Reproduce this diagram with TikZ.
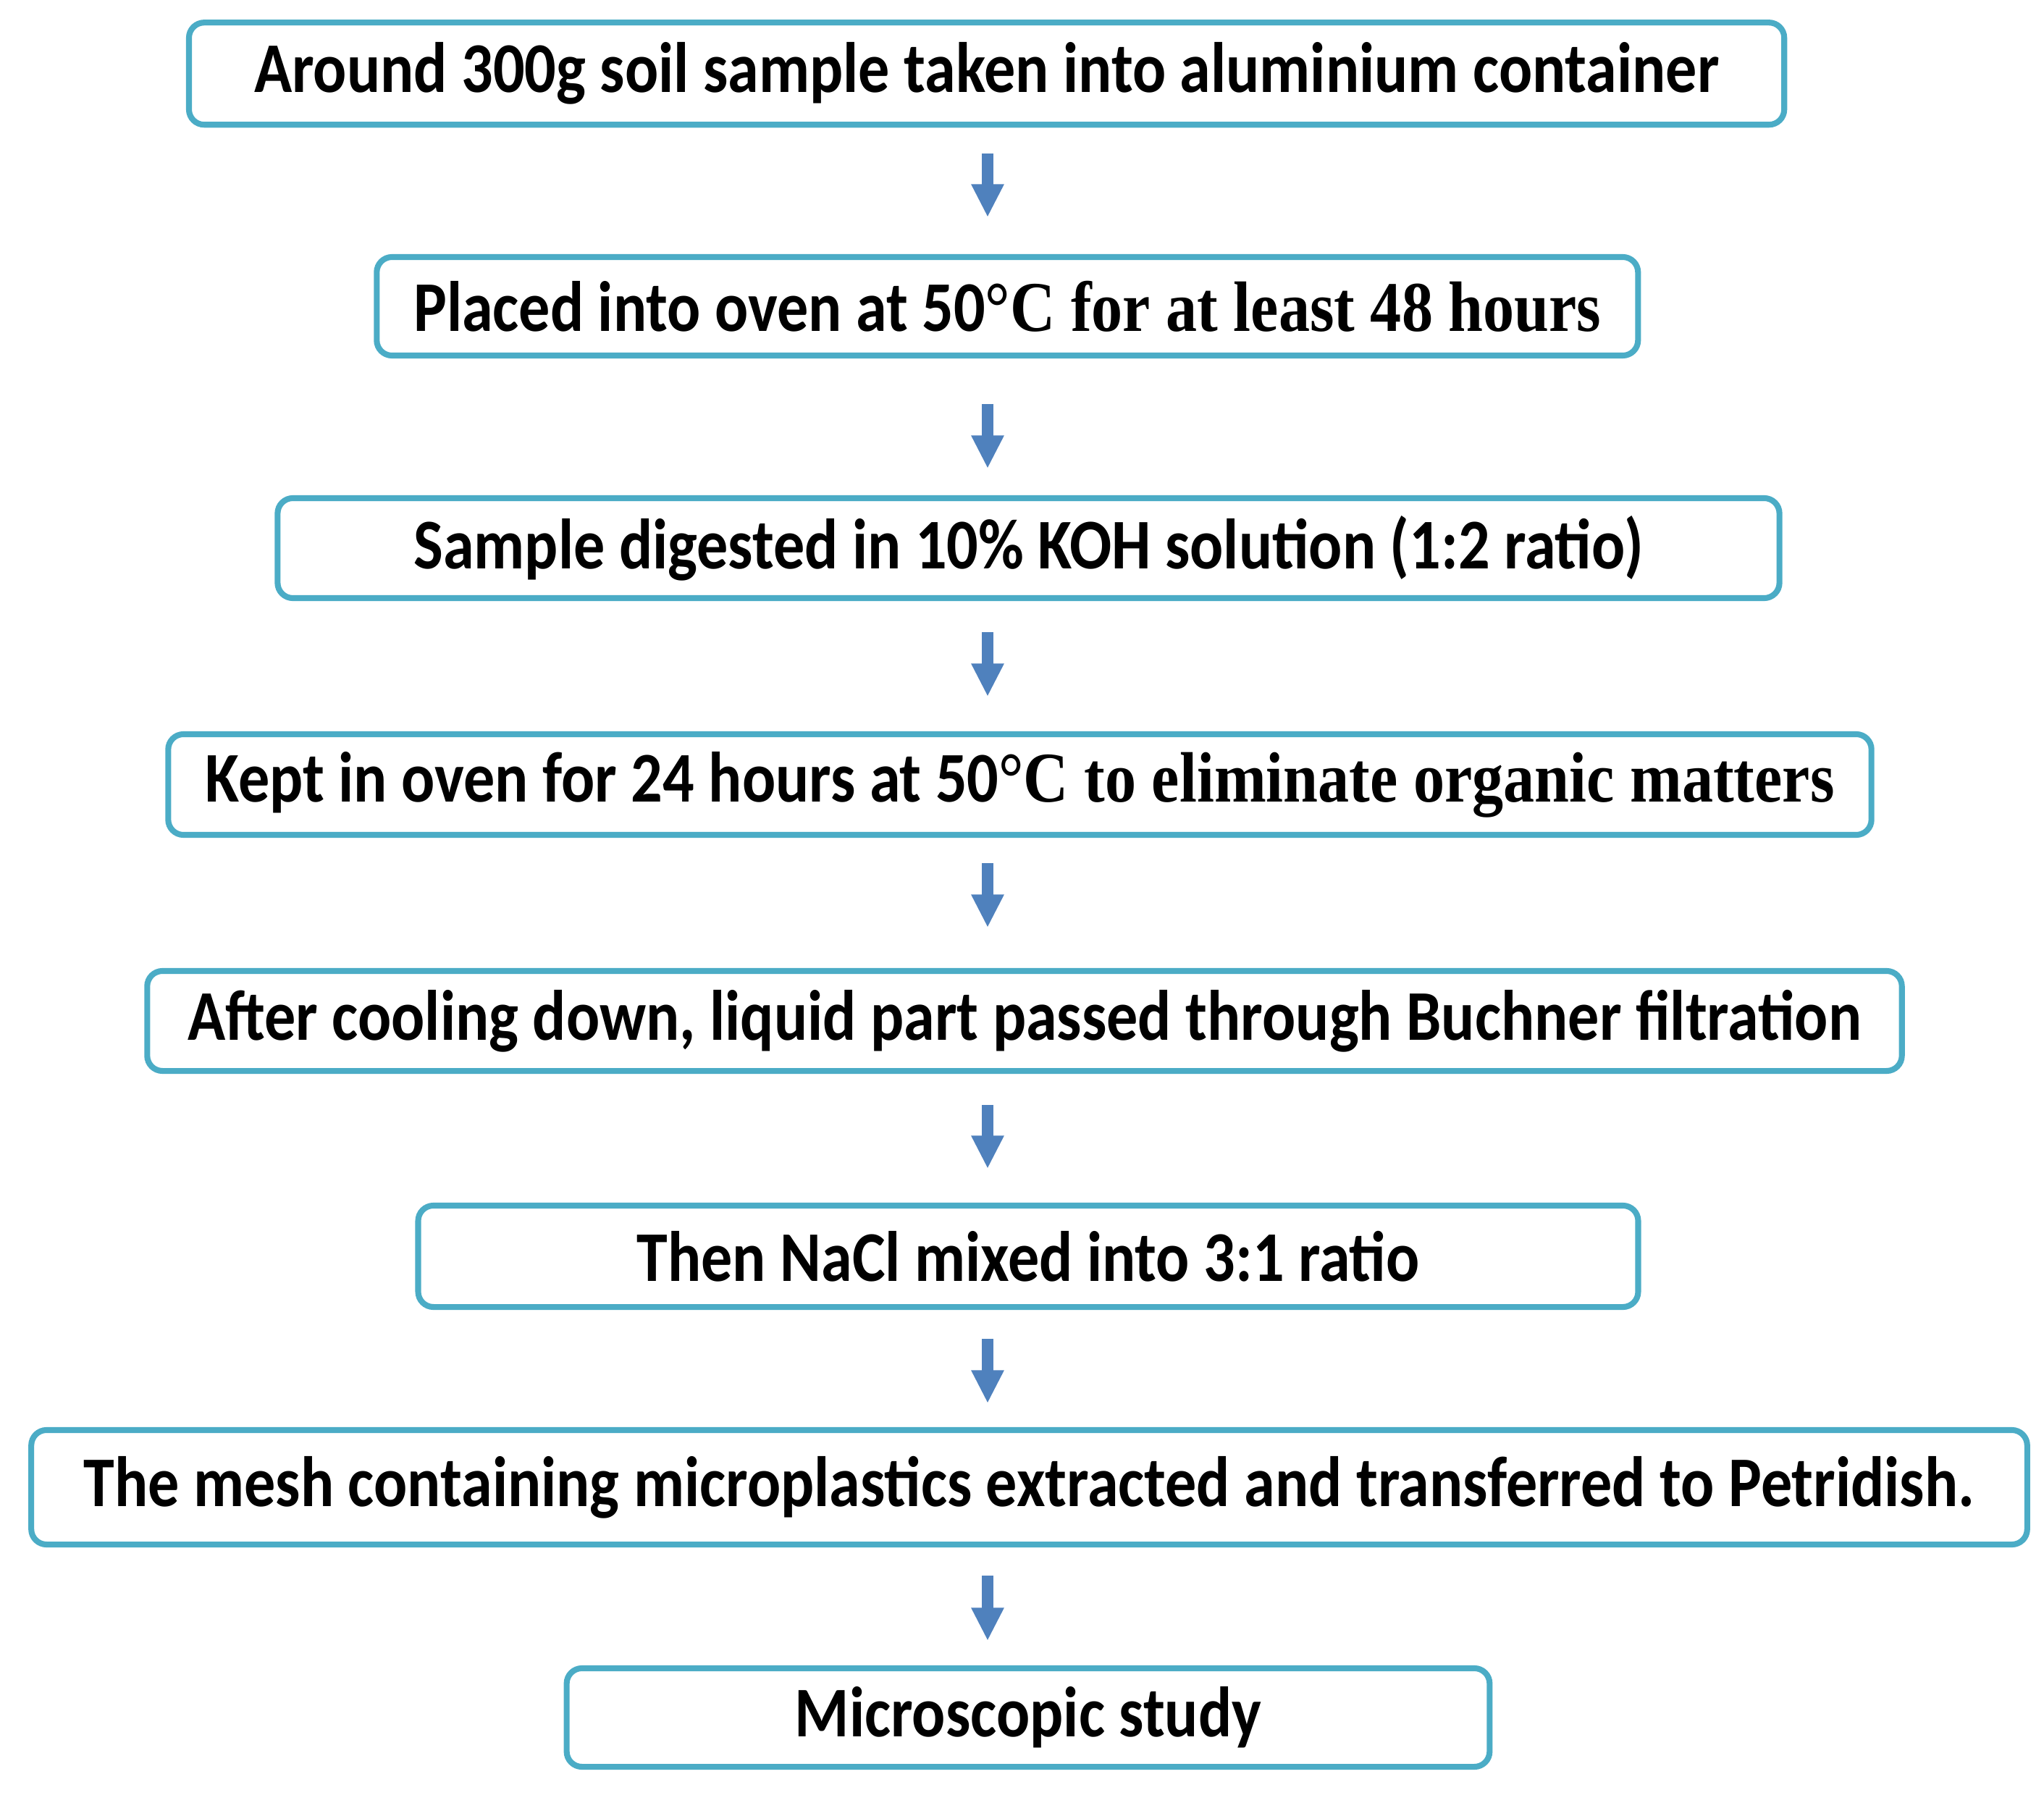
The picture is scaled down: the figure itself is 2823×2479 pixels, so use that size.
\documentclass[tikz,border=0pt]{standalone}
\usepackage{fontspec}
\setmainfont{Carlito}[FakeStretch=0.875]
\newfontfamily\tnr{Liberation Serif}[FakeStretch=0.875]
\usetikzlibrary{arrows.meta}
\definecolor{boxline}{HTML}{4BACC6}
\definecolor{arrowblue}{HTML}{4F81BD}
\tikzset{
  stepbox/.style={draw=boxline, line width=2.3pt, rounded corners=6pt, fill=white,
    inner sep=0pt, font=\fontsize{28}{32}\selectfont\bfseries, text=black},
  flowarrow/.style={draw=arrowblue, line width=4.3pt, -{Triangle[width=12pt,length=13pt]}}
}
\begin{document}
\begin{tikzpicture}[x=0.01cm,y=-0.01cm]
\fill[white] (0,0) rectangle (2823,2479);
\node[stepbox, minimum width=22.02cm, minimum height=1.41cm] (b1) at (1362.6,101.7) {Around 300g soil sample taken into aluminium container};
\node[stepbox, minimum width=17.41cm, minimum height=1.36cm] (b2) at (1391.3,423) {Placed into oven at 50{\tnr\bfseries °C for at least 48 hours}};
\node[stepbox, minimum width=20.73cm, minimum height=1.38cm] (b3) at (1420.5,757) {Sample digested in 10\% KOH solution (1:2 ratio)};
\node[stepbox, minimum width=23.51cm, minimum height=1.39cm] (b4) at (1408.5,1083.5) {Kept in oven for 24 hours at 50{\tnr\bfseries °C to eliminate organic matters}};
\node[stepbox, minimum width=24.22cm, minimum height=1.38cm] (b5) at (1415,1410) {After cooling down, liquid part passed through Buchner filtration};
\node[stepbox, minimum width=16.84cm, minimum height=1.40cm] (b6) at (1420,1735) {Then NaCl mixed into 3:1 ratio};
\node[stepbox, minimum width=27.55cm, minimum height=1.58cm] (b7) at (1421.5,2054) {The mesh containing microplastics extracted and transferred to Petridish.};
\node[stepbox, minimum width=12.74cm, minimum height=1.36cm] (b8) at (1420,2372) {Microscopic study};
\coordinate (a1s) at (1364,212);  \coordinate (a1e) at (1364,300);
\coordinate (a2s) at (1364,558);  \coordinate (a2e) at (1364,647);
\coordinate (a3s) at (1364,873);  \coordinate (a3e) at (1364,962);
\coordinate (a4s) at (1364,1192); \coordinate (a4e) at (1364,1281);
\coordinate (a5s) at (1364,1526); \coordinate (a5e) at (1364,1614);
\coordinate (a6s) at (1364,1849); \coordinate (a6e) at (1364,1938);
\coordinate (a7s) at (1364,2176); \coordinate (a7e) at (1364,2266);
\foreach \i in {1,...,7} { \draw[flowarrow] (a\i s) -- (a\i e); }
\end{tikzpicture}
\end{document}
